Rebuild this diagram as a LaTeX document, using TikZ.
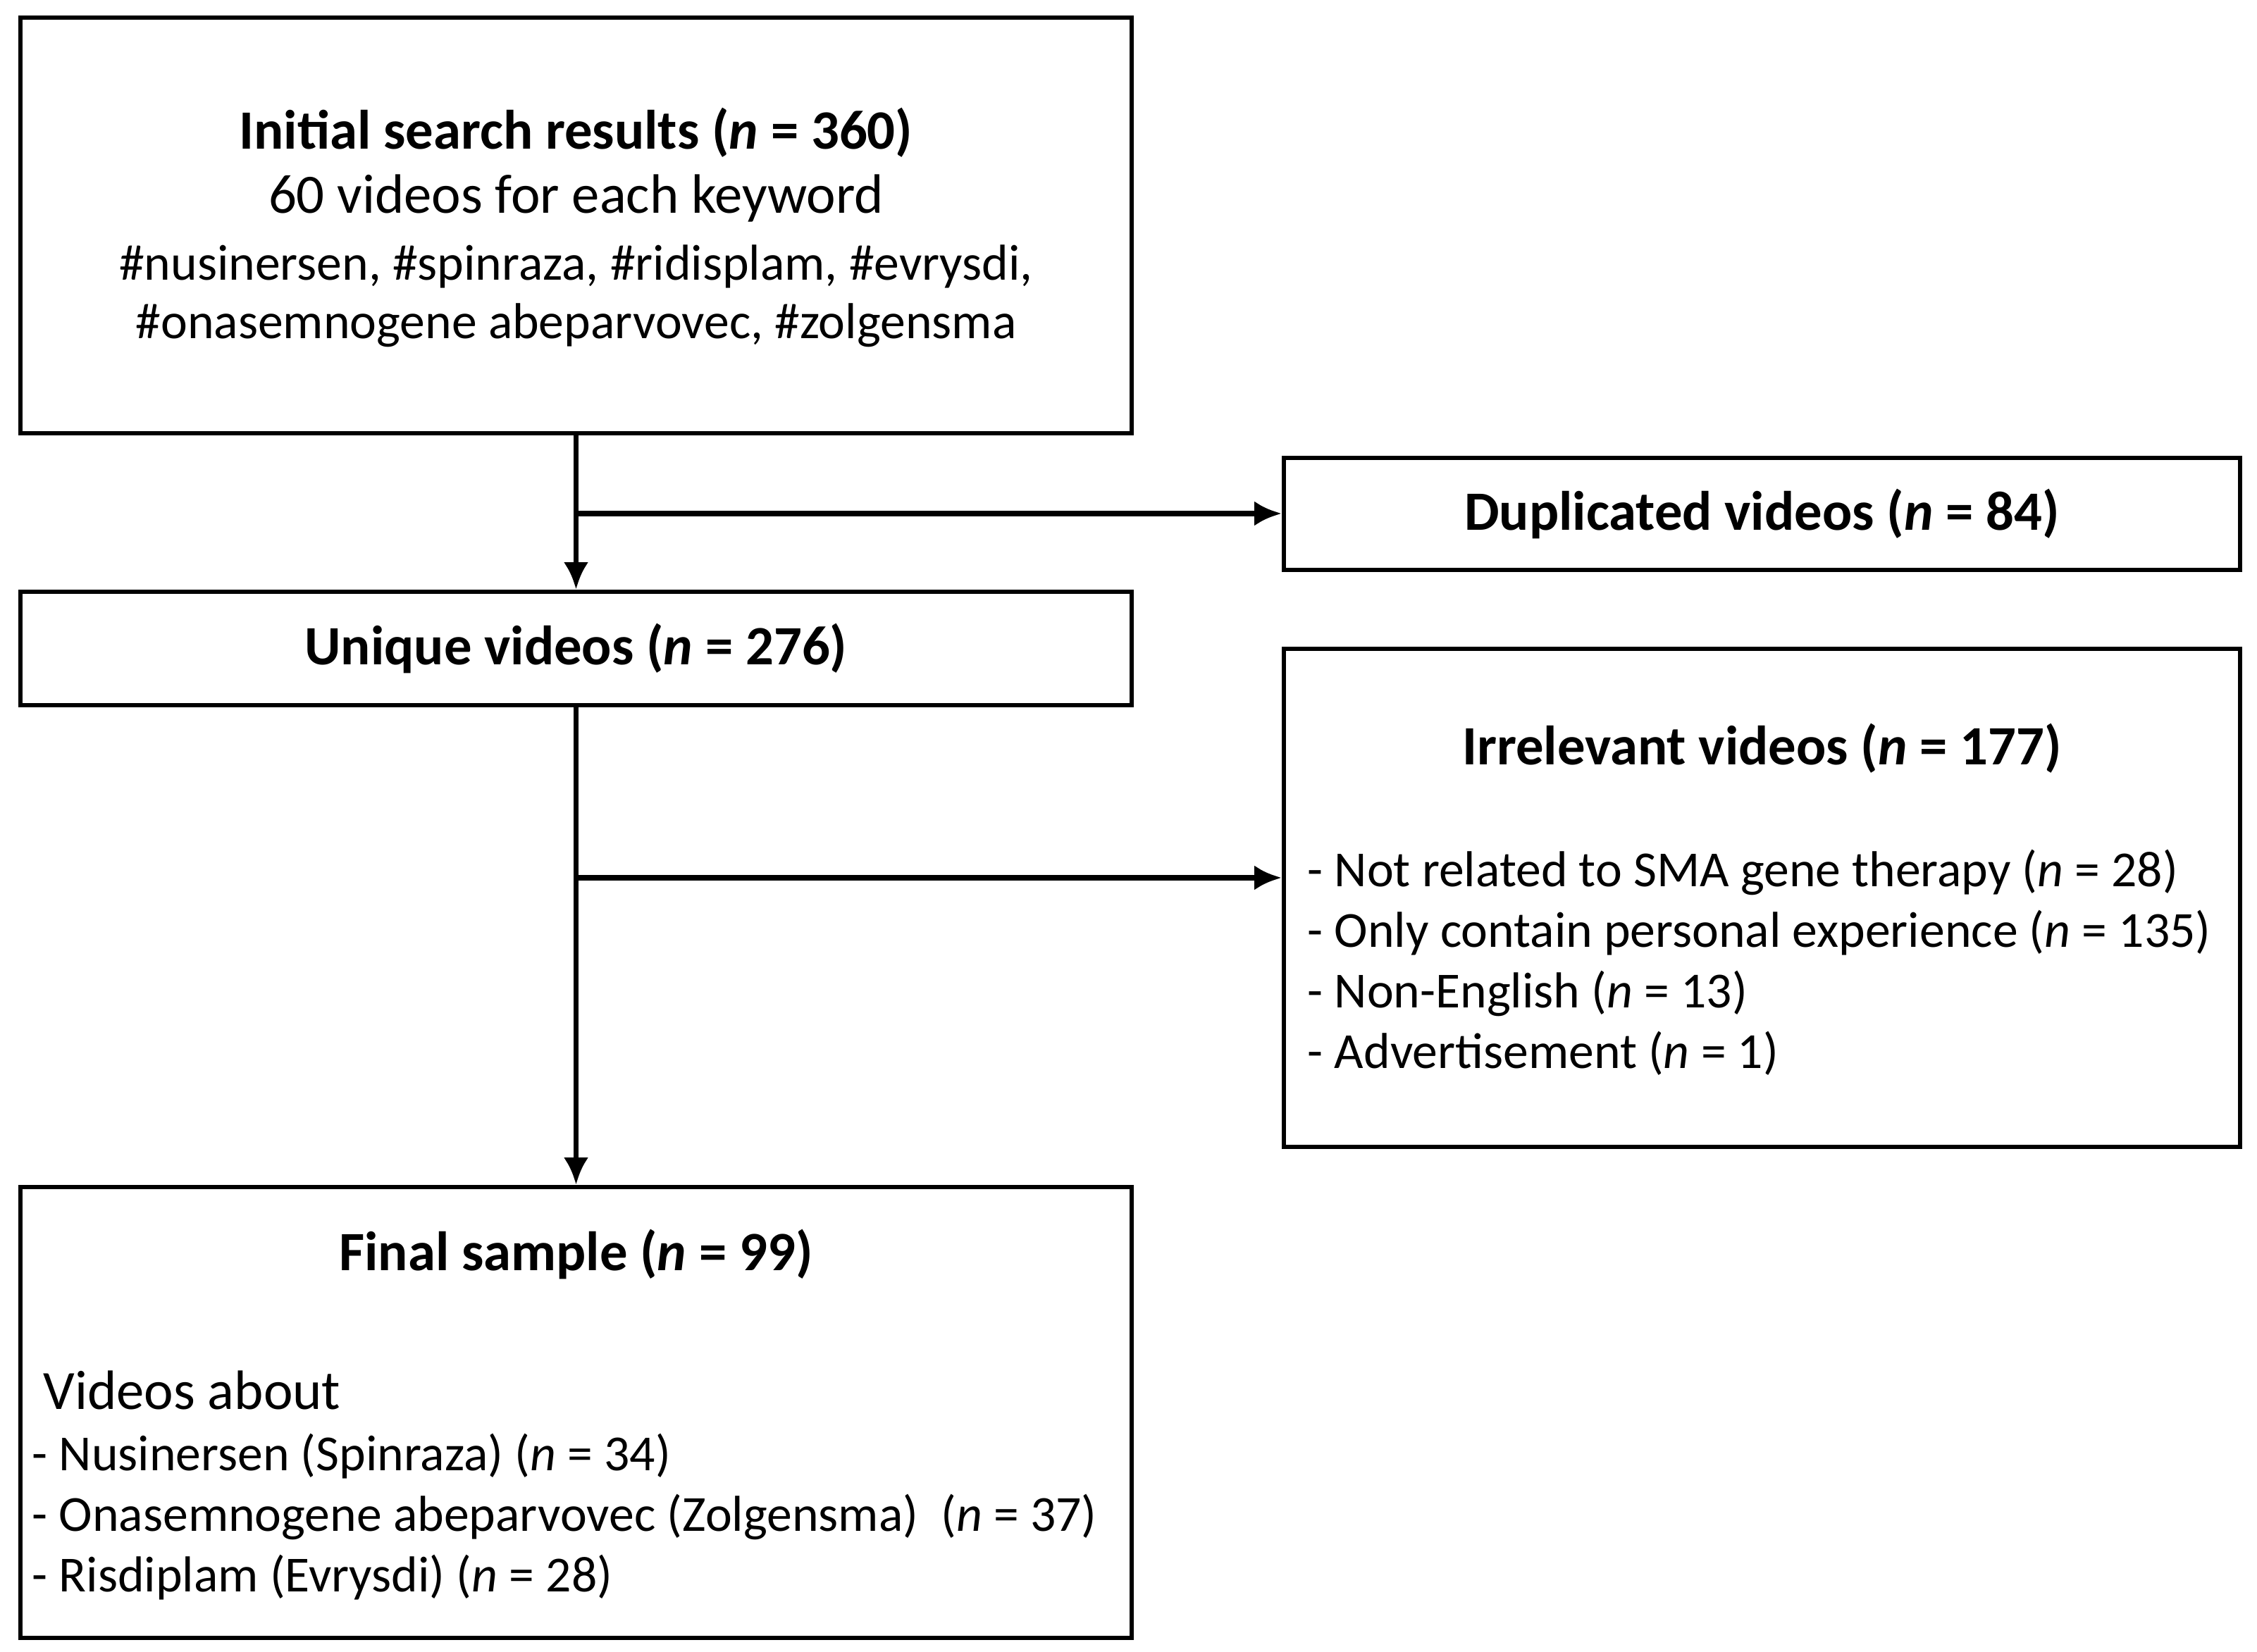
\documentclass[tikz,border=0pt]{standalone}
\usepackage{fontspec}
\setmainfont{Carlito}
\usetikzlibrary{arrows.meta,positioning}
\tikzstyle{box}=[draw=black,line width=1.8pt,inner sep=0pt]
\tikzstyle{txt}=[inner sep=0pt,font=\fontsize{20.4}{24}\selectfont]
\tikzstyle{ttl}=[inner sep=0pt,font=\fontsize{22.4}{26}\selectfont\bfseries]
\tikzstyle{flow}=[line width=2.2pt,-{Latex[length=11pt,width=10pt]}]
\begin{document}
\begin{tikzpicture}
	\useasboundingbox (0,0) rectangle (32.03,23.45);
	% boxes
	\node[box,minimum width=15.77cm,minimum height=5.9cm] (search) at (8.175,20.25) {};
	\node[box,minimum width=13.57cm,minimum height=1.59cm] (dup) at (25.005,16.155) {};
	\node[box,minimum width=15.77cm,minimum height=1.61cm] (unique) at (8.175,14.245) {};
	\node[box,minimum width=13.57cm,minimum height=7.07cm] (irrel) at (25.005,10.705) {};
	\node[box,minimum width=15.77cm,minimum height=6.40cm] (final) at (8.175,3.40) {};

	% texts
	\node[ttl] (t1) at (8.175,21.57) {Initial search results (\textit{n} = 360)};
	\node[txt,font=\fontsize{22.4}{26}\selectfont] (t2) at (8.175,20.63) {60 videos for each keyword};
	\node[txt] (t3) at (8.175,19.67) {\#nusinersen, \#spinraza, \#ridisplam, \#evrysdi,};
	\node[txt] (t4) at (8.175,18.83) {\#onasemnogene abeparvovec, \#zolgensma};
	\node[ttl] (dupt) at (dup) {Duplicated videos (\textit{n} = 84)};
	\node[ttl] (uniqt) at (unique) {Unique videos (\textit{n} = 276)};
	\node[ttl] (irrt) at (25.005,12.83) {Irrelevant videos (\textit{n} = 177)};
	\node[txt,anchor=west] (i1) at (18.55,11.07) {- Not related to SMA gene therapy (\textit{n} = 28)};
	\node[txt,anchor=west] (i2) at (18.55,10.21) {- Only contain personal experience (\textit{n} = 135)};
	\node[txt,anchor=west] (i3) at (18.55,9.35) {- Non-English (\textit{n} = 13)};
	\node[txt,anchor=west] (i4) at (18.55,8.50) {- Advertisement (\textit{n} = 1)};
	\node[ttl] (fint) at (8.175,5.64) {Final sample (\textit{n} = 99)};
	\node[txt,anchor=west,font=\fontsize{22.4}{26}\selectfont] (f0) at (0.61,3.72) {Videos about};
	\node[txt,anchor=west] (f1) at (0.45,2.78) {- Nusinersen (Spinraza) (\textit{n} = 34)};
	\node[txt,anchor=west] (f2) at (0.45,1.92) {- Onasemnogene abeparvovec (Zolgensma)~~(\textit{n} = 37)};
	\node[txt,anchor=west] (f3) at (0.45,1.06) {- Risdiplam (Evrysdi) (\textit{n} = 28)};

	% connectors
	\coordinate (b1) at (8.175,16.16);
	\coordinate (b2) at (8.175,10.99);
	\draw[flow] (search) -- (unique);
	\draw[flow] (unique) -- (final);
	\draw[flow] (b1) -- (dup.west |- b1);
	\draw[flow] (b2) -- (irrel.west |- b2);
\end{tikzpicture}
\end{document}
